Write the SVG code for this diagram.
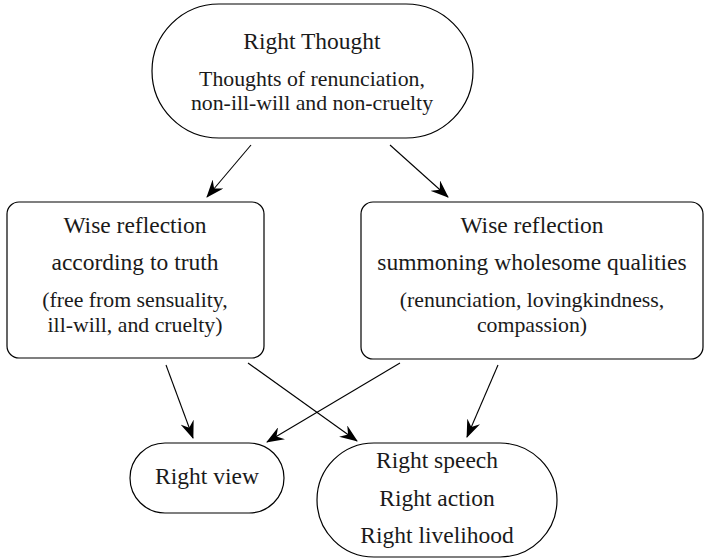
<svg xmlns="http://www.w3.org/2000/svg" width="707" height="560" viewBox="0 0 707 560">
<style>
.n{fill:#fff;stroke:#000;stroke-width:1.2}
.t{font-family:"Liberation Serif","DejaVu Serif",serif;font-size:23.5px;fill:#1a1a1a;text-anchor:middle}
.s{font-size:21.8px}
.c{stroke:#000;stroke-width:1.1;fill:none;marker-end:url(#ah)}
</style>
<defs>
<marker id="ah" viewBox="0 0 18 14" refX="17" refY="7" markerWidth="18" markerHeight="14" markerUnits="userSpaceOnUse" orient="auto">
<path d="M0,0 L18,7 L0,14 L6,7 Z" fill="#000"/>
</marker>
</defs>
<rect width="707" height="560" fill="#fff"/>
<g id="connectors">
<line class="c" x1="251" y1="145" x2="207" y2="197"/>
<line class="c" x1="390" y1="145" x2="448" y2="197"/>
<line class="c" x1="166" y1="365" x2="193" y2="438"/>
<line class="c" x1="248" y1="363" x2="357" y2="441"/>
<line class="c" x1="400" y1="363" x2="267" y2="442"/>
<line class="c" x1="498" y1="365" x2="467" y2="437"/>
</g>
<g id="right-thought">
<rect class="n" x="152" y="4" width="321" height="134" rx="67" ry="67"/>
<text class="t" x="312" y="49">Right Thought</text>
<text class="t s" x="312" y="86">Thoughts of renunciation,</text>
<text class="t s" x="312" y="110">non-ill-will and non-cruelty</text>
</g>
<g id="wise-truth">
<rect class="n" x="7" y="202" width="257" height="156" rx="12" ry="12"/>
<text class="t" x="135" y="233">Wise reflection</text>
<text class="t" x="135" y="270">according to truth</text>
<text class="t s" x="135" y="307">(free from sensuality,</text>
<text class="t s" x="135" y="332">ill-will, and cruelty)</text>
</g>
<g id="wise-wholesome">
<rect class="n" x="361" y="202" width="342" height="157" rx="12" ry="12"/>
<text class="t" x="532" y="233">Wise reflection</text>
<text class="t" x="532" y="270">summoning wholesome qualities</text>
<text class="t s" x="532" y="307">(renunciation, lovingkindness,</text>
<text class="t s" x="532" y="332">compassion)</text>
</g>
<g id="right-view">
<rect class="n" x="130" y="443" width="154" height="70" rx="35" ry="35"/>
<text class="t" x="207" y="484">Right view</text>
</g>
<g id="right-speech">
<rect class="n" x="317" y="443" width="240" height="114" rx="57" ry="57"/>
<text class="t" x="437" y="468">Right speech</text>
<text class="t" x="437" y="506">Right action</text>
<text class="t" x="437" y="543">Right livelihood</text>
</g>
</svg>
